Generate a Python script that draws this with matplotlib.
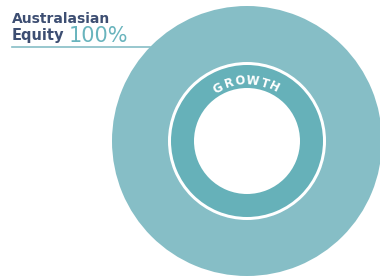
import numpy as np
import matplotlib
matplotlib.use("Agg")
import matplotlib.pyplot as plt

# data
share = [100]          # outer ring: asset class share (%)
growth = [100]         # inner ring: growth share (%)
ring_label = "GROWTH"

navy = "#3d4e72"
light_teal = "#86bec6"
dark_teal = "#66b1b9"

fig = plt.figure(figsize=(3.8, 2.76), dpi=100)
ax = fig.add_axes([0, 0, 1, 1])

cx, cy = 247, 141
ax.pie(share, radius=135, center=(cx, cy), colors=[light_teal],
       startangle=90, frame=True)
ax.pie(growth, radius=79, center=(cx, cy), colors=["white"],
       startangle=90, frame=True)
ax.pie(growth, radius=76, center=(cx, cy), colors=[dark_teal],
       startangle=90, frame=True, wedgeprops=dict(width=23))
ax.set_xlim(0, 380)
ax.set_ylim(276, 0)
ax.set_aspect("equal")
ax.axis("off")

# curved label along the inner ring
r_txt = 60
angles = [-28.5, -17.5, -6.5, 5.5, 17, 27]
for ch, a in zip(ring_label, angles):
    t = np.radians(a)
    ax.text(cx + r_txt*np.sin(t), cy - r_txt*np.cos(t), ch, color="white",
            fontsize=8.5, fontweight="bold", rotation=-a,
            ha="center", va="center")

# callout text
ax.text(12, 23, "Australasian", color=navy, fontsize=10,
        fontweight="bold", ha="left", va="baseline")
ax.text(12, 40, "Equity", color=navy, fontsize=10.5,
        fontweight="bold", ha="left", va="baseline")
ax.text(69, 42, f"{share[0]}%", color="#69b4bd", fontsize=15,
        ha="left", va="baseline")
ax.plot([12, 150], [47, 47], color=light_teal, lw=1.2)

fig.savefig("out.png", dpi=100)
